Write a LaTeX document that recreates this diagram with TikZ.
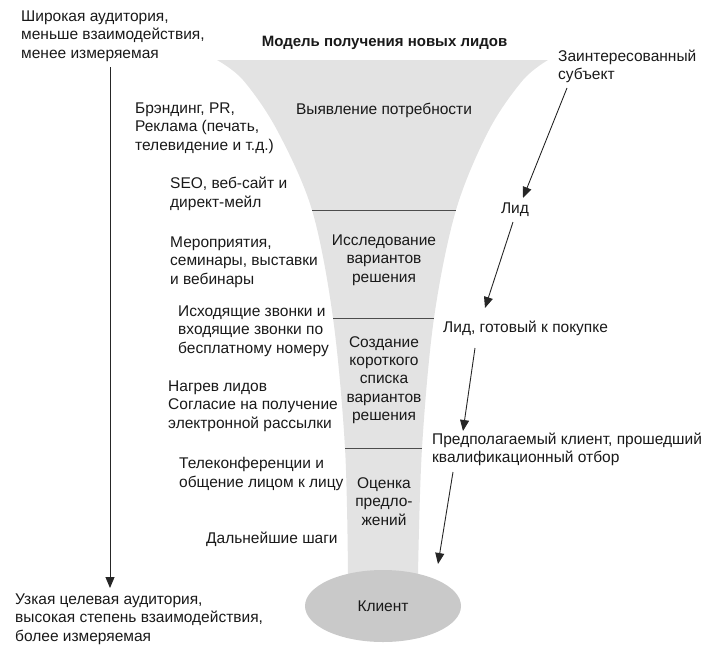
\documentclass[tikz,border=0pt]{standalone}
\usepackage{fontspec}
\setmainfont{Liberation Sans}
\usetikzlibrary{arrows.meta,shapes.geometric}
\begin{document}
\begin{tikzpicture}[x=1pt,y=-1pt,
  txt/.style={inner sep=0pt,font=\fontsize{15.5}{18.4}\selectfont,text=black!90},
  ltxt/.style={txt,align=left,anchor=west},
  ctxt/.style={txt,align=center},
  arr/.style={draw=black!85,line width=0.9pt,-{Triangle[length=11pt,width=9pt]}},
  divider/.style={draw=black!70,line width=0.9pt}]
\useasboundingbox (0,0) rectangle (709,656);
% funnel
\fill[black!11] plot[smooth,tension=0.55] coordinates {(217,60) (243,80) (277,130) (312,210) (333,318) (345,448) (348,574)}
  -- plot[smooth,tension=0.55] coordinates {(418,574) (422,448) (434,318) (456,210) (489,130) (523,80) (548,60)} -- cycle;
\draw[divider] (312,210) -- (456,210);
\draw[divider] (333,318) -- (434,318);
\draw[divider] (345,448) -- (422,448);
\node[ctxt,fill=black!21,ellipse,minimum width=156pt,minimum height=72pt] (client) at (383,606) {Клиент};
% title
\node[txt,font=\fontsize{15}{18}\selectfont\bfseries] (title) at (384.5,43) {Модель получения новых лидов};
% funnel stages
\node[ctxt] (s1) at (384,110) {Выявление потребности};
\node[ctxt] (s2) at (384,260) {Исследование\\вариантов\\решения};
\node[ctxt] (s3) at (384,380) {Создание\\короткого\\списка\\вариантов\\решения};
\node[ctxt] (s4) at (384,501.5) {Оценка\\предло-\\жений};
% left column
\node[ltxt] (wide) at (21,36) {Широкая аудитория,\\меньше взаимодействия,\\менее измеряемая};
\node[ltxt] (narrow) at (15,619) {Узкая целевая аудитория,\\высокая степень взаимодействия,\\более измеряемая};
\coordinate (la) at (110,67);
\coordinate (lb) at (110,588);
\draw[arr] (la) -- (lb);
\node[ltxt] (m1) at (135,128) {Брэндинг, PR,\\Реклама (печать,\\телевидение и т.д.)};
\node[ltxt] (m2) at (170,194) {SEO, веб-сайт и\\директ-мейл};
\node[ltxt] (m3) at (170,262) {Мероприятия,\\семинары, выставки\\и вебинары};
\node[ltxt] (m4) at (178,331) {Исходящие звонки и\\входящие звонки по\\бесплатному номеру};
\node[ltxt] (m5) at (168,406) {Нагрев лидов\\Согласие на получение\\электронной рассылки};
\node[ltxt] (m6) at (179,474) {Телеконференции и\\общение лицом к лицу};
\node[ltxt] (m7) at (206,539) {Дальнейшие шаги};
% right column
\node[ltxt] (r1) at (558,66.5) {Заинтересованный\\субъект};
\node[ctxt] (r2) at (515,210) {Лид};
\node[ltxt] (r3) at (443,328) {Лид, готовый к покупке};
\node[ltxt] (r4) at (432,449.5) {Предполагаемый клиент, прошедший\\квалификационный отбор};
\coordinate (a1s) at (567,88);
\coordinate (a1e) at (523,198);
\coordinate (a2s) at (513,222);
\coordinate (a2e) at (485,308);
\coordinate (a3s) at (475,348);
\coordinate (a3e) at (463,431);
\coordinate (a4s) at (453,472);
\coordinate (a4e) at (438,564);
\draw[arr] (a1s) -- (a1e);
\draw[arr] (a2s) -- (a2e);
\draw[arr] (a3s) -- (a3e);
\draw[arr] (a4s) -- (a4e);
\end{tikzpicture}
\end{document}
